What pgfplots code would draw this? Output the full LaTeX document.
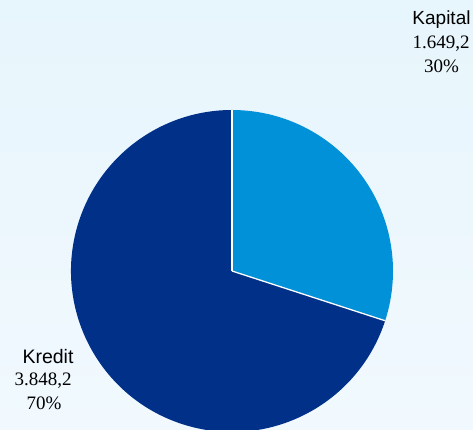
\documentclass[border=0pt]{standalone}
\usepackage{pgfplots}
\pgfplotsset{compat=1.18}
\usepackage{pgfplotstable}
\usepackage{fontspec}
\setmainfont{Liberation Serif}
\newfontfamily\arial{Liberation Sans}

\definecolor{kapital}{HTML}{0091D9}
\definecolor{kredit}{HTML}{003087}
\definecolor{bgtop}{HTML}{E7F5FC}
\definecolor{bgbot}{HTML}{F1F9FE}

% values of the two slices
\pgfplotstableread{
label   value
Kapital 1649.2
Kredit  3848.2
}\piedata
\pgfplotstablegetelem{0}{value}\of\piedata \let\vKap\pgfplotsretval
\pgfplotstablegetelem{1}{value}\of\piedata \let\vKre\pgfplotsretval
\pgfmathsetmacro\fKap{\vKap/(\vKap+\vKre)}
\pgfmathsetmacro\aEnd{90-360*\fKap}

\begin{document}
\begin{tikzpicture}
\begin{axis}[
    x=1pt, y=1pt,
    xmin=0, xmax=473, ymin=0, ymax=430,
    hide axis,
    clip=true,
]
    % background
    \path[top color=bgtop, bottom color=bgbot] (axis cs:0,0) rectangle (axis cs:473,430);
    % slices
    \fill[kapital] (axis cs:232,159) -- ++(90:161pt)
        arc[start angle=90, end angle=\aEnd, radius=161pt] -- cycle;
    \fill[kredit] (axis cs:232,159) -- ++(\aEnd:161pt)
        arc[start angle=\aEnd, end angle=-270, radius=161pt] -- cycle;
    \draw[white, line width=1.3pt] (axis cs:232,159) -- ++(90:161pt);
    \draw[white, line width=1.3pt] (axis cs:232,159) -- ++(\aEnd:161pt);
    % labels
    \node[font=\arial\fontsize{19}{22}\selectfont] at (axis cs:441.5,410) {Kapital};
    \node[font=\fontsize{19}{22}\selectfont] at (axis cs:441,386) {1.649,2};
    \node[font=\fontsize{19}{22}\selectfont] at (axis cs:441.5,364) {30\%};
    \node[font=\arial\fontsize{19.5}{22}\selectfont] at (axis cs:48,73) {Kredit};
    \node[font=\fontsize{19}{22}\selectfont] at (axis cs:43,49) {3.848,2};
    \node[font=\fontsize{19}{22}\selectfont] at (axis cs:44,27) {70\%};
\end{axis}
\end{tikzpicture}
\end{document}
